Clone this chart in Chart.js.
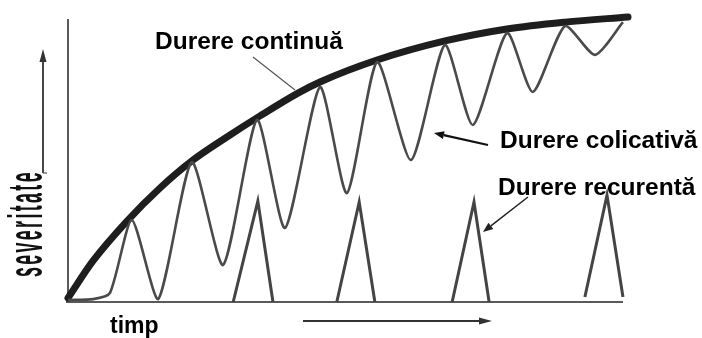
<!DOCTYPE html>
<html><head><meta charset="utf-8">
<script src="https://cdn.jsdelivr.net/npm/chart.js@4/dist/chart.umd.min.js"></script>
<style>html,body{margin:0;padding:0;background:#fff;}canvas{display:block}</style>
</head><body>
<canvas id="c" width="702" height="338"></canvas>
<script>
// time axis 0..100, severity axis 0..100
const continuaT = [0, 4.46, 10.54, 16.43, 22.32, 28.39, 34.29, 41.07, 45.0, 55.18, 67.32, 78.39, 88.75, 100];
const continuaS = [1.4, 14.4, 28.4, 40.0, 49.8, 57.9, 65.3, 73.3, 77.2, 84.9, 91.6, 95.8, 98.2, 100];

const colicativaT = [0, 4.5, 7.5, 11.4, 16.1, 22.1, 27.7, 33.75, 38.75, 45.0, 49.8, 55.2, 61.25, 67.3, 72.3, 78.4, 83.0, 88.75, 94.1, 99.1];
const colicativaS = [0.7, 1.0, 3.2, 28.8, 1.0, 49.1, 13.0, 63.9, 26.0, 75.4, 38.2, 84.2, 49.8, 90.2, 62.1, 94.4, 73.7, 96.8, 86.7, 98.2];

const recurentaT = [29.5, 33.9, 36.6, 42, 48.0, 52.0, 54.8, 62, 68.6, 72.5, 75.2, 84, 92.3, 96.25, 99.1];
const recurentaS = [0, 35.4, 0, null, 0, 35.1, 0, null, 0, 35.1, 0, null, 1.75, 37.5, 1.75];

const labels = {
  continua: 'Durere continuă',
  colicativa: 'Durere colicativă',
  recurenta: 'Durere recurentă',
  yTitle: 'severitate',
  xTitle: 'timp'
};

const zip = (xs, ys) => xs.map((x, i) => ({x: x, y: ys[i]}));

const FONT = "'Liberation Sans', Arial, sans-serif";

function arrow(ctx, x1, y1, x2, y2, len, half, width, color) {
  ctx.save();
  ctx.strokeStyle = color; ctx.fillStyle = color; ctx.lineWidth = width;
  const a = Math.atan2(y2 - y1, x2 - x1);
  const bx = x2 - Math.cos(a) * len, by = y2 - Math.sin(a) * len;
  ctx.beginPath(); ctx.moveTo(x1, y1); ctx.lineTo(bx, by); ctx.stroke();
  ctx.beginPath();
  ctx.moveTo(x2, y2);
  ctx.lineTo(bx + Math.sin(a) * half, by - Math.cos(a) * half);
  ctx.lineTo(bx - Math.sin(a) * half, by + Math.cos(a) * half);
  ctx.closePath(); ctx.fill();
  ctx.restore();
}

const decor = {
  id: 'decor',
  beforeDatasetsDraw(chart) {
    const ctx = chart.ctx, ca = chart.chartArea;
    ctx.save();
    ctx.strokeStyle = '#5a5a5a'; ctx.lineWidth = 2;
    ctx.beginPath();
    ctx.moveTo(ca.left, 19); ctx.lineTo(ca.left, ca.bottom);
    ctx.moveTo(ca.left - 2, ca.bottom); ctx.lineTo(623, ca.bottom);
    ctx.stroke();
    ctx.restore();
  },
  afterDatasetsDraw(chart) {
    const ctx = chart.ctx;
    ctx.save();
    ctx.fillStyle = '#000';
    ctx.textBaseline = 'alphabetic';
    ctx.font = 'bold 24.5px ' + FONT;
    ctx.fillText(labels.continua, 155, 49);
    ctx.fillText(labels.colicativa, 500, 148);
    ctx.fillText(labels.recurenta, 498, 195);
    ctx.font = 'bold 23px ' + FONT;
    ctx.fillText(labels.xTitle, 110, 333);
    // vertical, tall and narrow, letter-spaced title
    ctx.save();
    ctx.translate(42, 277);
    ctx.rotate(-Math.PI / 2);
    ctx.font = 'bold 48px ' + FONT;
    ctx.fillStyle = '#111';
    const sx = 0.37, gap = 2.4;
    let pos = 0;
    for (const ch of labels.yTitle) {
      ctx.save();
      ctx.translate(pos, 0);
      ctx.scale(sx, 1);
      ctx.fillText(ch, 0, 0);
      ctx.restore();
      pos += ctx.measureText(ch).width * sx + gap;
    }
    ctx.restore();
    // pointer lines and arrows
    ctx.strokeStyle = '#555'; ctx.lineWidth = 1.2;
    ctx.beginPath(); ctx.moveTo(253, 57); ctx.lineTo(295, 90); ctx.stroke();
    arrow(ctx, 488, 145, 434, 133, 10, 4, 2.2, '#111');
    arrow(ctx, 528, 197, 483, 232, 10, 4, 1.5, '#222');
    arrow(ctx, 43, 173, 43, 49, 13, 3.5, 1.8, '#333');
    arrow(ctx, 303, 321, 492, 321, 13, 3.5, 1.8, '#333');
    ctx.beginPath(); ctx.moveTo(43, 173); ctx.lineTo(47, 173); ctx.stroke();
    ctx.restore();
  }
};

new Chart(document.getElementById('c'), {
  type: 'line',
  data: {
    datasets: [
      {
        label: labels.recurenta,
        data: zip(recurentaT, recurentaS),
        borderColor: '#444', borderWidth: 3, tension: 0, pointRadius: 0,
        spanGaps: false, clip: false, borderJoinStyle: 'miter'
      },
      {
        label: labels.colicativa,
        data: zip(colicativaT, colicativaS),
        borderColor: '#4a4a4a', borderWidth: 2.6, tension: 0.22, pointRadius: 0,
        clip: false
      },
      {
        label: labels.continua,
        data: zip(continuaT, continuaS),
        borderColor: '#1e1e1e', borderWidth: 7, cubicInterpolationMode: 'monotone',
        pointRadius: 0, clip: false, borderCapStyle: 'round'
      }
    ]
  },
  options: {
    responsive: false,
    animation: false,
    devicePixelRatio: 1,
    layout: { padding: { left: 68, right: 74, top: 17, bottom: 36 } },
    plugins: { legend: { display: false }, tooltip: { enabled: false } },
    scales: {
      x: { type: 'linear', min: 0, max: 100, display: false },
      y: { type: 'linear', min: 0, max: 100, display: false }
    }
  },
  plugins: [decor]
});
</script>
</body></html>
